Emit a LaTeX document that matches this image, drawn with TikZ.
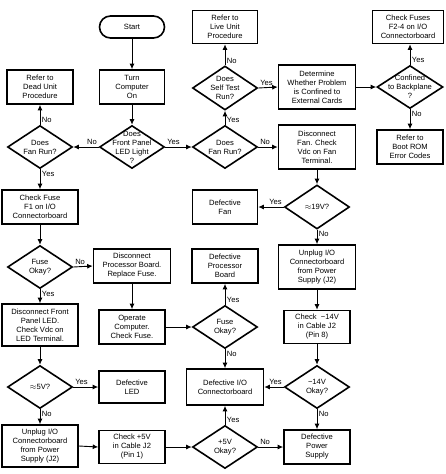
\documentclass[tikz,border=0pt]{standalone}
\usepackage{fontspec}
\setmainfont{Liberation Sans}
\usetikzlibrary{shapes.geometric,arrows.meta}
\begin{document}
\begin{tikzpicture}[x=1pt,y=-1pt,
  font=\fontsize{7.6}{9}\selectfont,
  proc/.style={draw, line width=1.6pt, align=center, inner sep=1pt,
    minimum width=66pt, minimum height=34pt},
  term/.style={proc, rounded corners=11pt, minimum width=65pt, minimum height=22pt},
  dec/.style={draw, diamond, line width=1.6pt, minimum width=65pt,
    minimum height=43pt, inner sep=0pt},
  dlab/.style={align=center, inner sep=0pt},
  conn/.style={line width=0.9pt, -{Latex[length=5.5pt,width=5pt]}},
  lab/.style={inner sep=1.5pt}
]
\useasboundingbox (0,0) rectangle (445,474);

% column 1 (x=40)
\node[proc, minimum width=66pt] (dead) at (40,87) {Refer to\\Dead Unit\\Procedure};
\node[dec, label={[dlab]center:Does\\Fan Run?}] (fanL) at (40,147) {};
\node[proc, minimum width=76pt] (chkF1) at (40,207) {Check Fuse\\F1 on I/O\\Connectorboard};
\node[dec, label={[dlab]center:Fuse\\Okay?}] (fuseL) at (40,267) {};
\node[proc, minimum width=76pt, minimum height=42pt] (discled) at (40,325) {Disconnect Front\\Panel LED.\\Check Vdc on\\LED Terminal.};
\node[dec, label={[dlab]center:$\approx$5V?}] (v5) at (40,387) {};
\node[proc, minimum width=76pt, minimum height=42pt] (unplugL) at (40,446) {Unplug I/O\\Connectorboard\\from Power\\Supply (J2)};

% column 2 (x=132)
\node[term] (start) at (132,27) {Start};
\node[proc, minimum width=65pt] (turn) at (132,87) {Turn\\Computer\\On};
\node[dec, label={[dlab]center:Does\\Front Panel\\LED Light\\?}] (led) at (132,147) {};
\node[proc, minimum width=77pt] (discproc) at (132,266) {Disconnect\\Processor Board.\\Replace Fuse.};
\node[proc] (operate) at (132,327) {Operate\\Computer.\\Check Fuse.};
\node[proc, minimum height=32pt] (defled) at (132,387) {Defective\\LED};
\node[proc, minimum height=33pt] (chk5) at (132,447) {Check +5V\\in Cable J2\\(Pin 1)};

% column 3 (x=225)
\node[proc, minimum width=65pt, minimum height=33pt] (live) at (225,27) {Refer to\\Live Unit\\Procedure};
\node[dec, minimum height=44pt, label={[dlab]center:Does\\Self Test\\Run?}] (self) at (225,88) {};
\node[dec, label={[dlab]center:Does\\Fan Run?}] (fanM) at (225,147) {};
\node[proc, minimum width=65pt] (deffan) at (225,207) {Defective\\Fan};
\node[proc] (defproc) at (225,266) {Defective\\Processor\\Board};
\node[dec, label={[dlab]center:Fuse\\Okay?}] (fuseM) at (225,327) {};
\node[proc, minimum width=77pt, minimum height=36pt] (defio) at (225,387) {Defective I/O\\Connectorboard};
\node[dec, label={[dlab]center:+5V\\Okay?}] (p5) at (225,447) {};

% column 4 (x=317)
\node[proc, minimum width=77pt, minimum height=44pt] (determ) at (317,87) {Determine\\Whether Problem\\is Confined to\\External Cards};
\node[proc, minimum width=77pt, minimum height=44pt] (discfan) at (317,147) {Disconnect\\Fan. Check\\Vdc on Fan\\Terminal.};
\node[dec, minimum height=44pt, label={[dlab]center:$\approx$19V?}] (v19) at (317,207) {};
\node[proc, minimum width=77pt, minimum height=44pt] (unplugR) at (317,267) {Unplug I/O\\Connectorboard\\from Power\\Supply (J2)};
\node[proc, minimum height=33pt] (chk14) at (317,327) {Check \ −14V\\in Cable J2\\(Pin 8)};
\node[dec, label={[dlab]center:−14V\\Okay?}] (v14) at (317,387) {};
\node[proc] (defps) at (317,447) {Defective\\Power\\Supply};

% column 5 (x=410)
\node[proc, minimum width=71pt, minimum height=33pt] (fuses24) at (408,27) {Check Fuses\\F2-4 on I/O\\Connectorboard};
\node[dec, minimum width=66pt, label={[dlab]center:Confined\\to Backplane\\?}] (conf) at (410,87) {};
\node[proc] (bootrom) at (410,147) {Refer to\\Boot ROM\\Error Codes};

% connectors
\draw[conn] (start) -- (turn);
\draw[conn] (turn) -- (led);
\draw[conn] (led.west) -- node[lab, pos=0, above left]{No} (fanL.east);
\draw[conn] (led.east) -- node[lab, pos=0, above right]{Yes} (fanM.west);
\draw[conn] (fanL.north) -- node[lab, pos=0, above right]{No} (dead.south);
\draw[conn] (fanL.south) -- node[lab, pos=0, below right]{Yes} (chkF1.north);
\draw[conn] (chkF1) -- (fuseL);
\draw[conn] (fuseL.east) -- node[lab, pos=0, above right]{No} (discproc.west);
\draw[conn] (fuseL.south) -- node[lab, pos=0, below right]{Yes} (discled.north);
\draw[conn] (discproc) -- (operate);
\draw[conn] (operate.east) -- (fuseM.west);
\draw[conn] (fuseM.north) -- node[lab, pos=0, above right]{Yes} (defproc.south);
\draw[conn] (fuseM.south) -- node[lab, pos=0, below right]{No} (defio.north);
\draw[conn] (discled) -- (v5);
\draw[conn] (v5.east) -- node[lab, pos=0, above right]{Yes} (defled.west);
\draw[conn] (v5.south) -- node[lab, pos=0, below right]{No} (unplugL.north);
\draw[conn] (unplugL.east) -- (chk5.west);
\draw[conn] (chk5.east) -- (p5.west);
\draw[conn] (p5.north) -- node[lab, pos=0, above right]{Yes} (defio.south);
\draw[conn] (p5.east) -- node[lab, pos=0, above right]{No} (defps.west);
\draw[conn] (fanM.north) -- node[lab, pos=0, above right]{Yes} (self.south);
\draw[conn] (fanM.east) -- node[lab, pos=0, above right]{No} (discfan.west);
\draw[conn] (self.north) -- node[lab, pos=0, above right]{No} (live.south);
\draw[conn] (self.east) -- node[lab, pos=0, above right]{Yes} (determ.west);
\draw[conn] (determ.east) -- (conf.west);
\draw[conn] (conf.north) -- node[lab, pos=0, above right]{Yes} (conf.north |- fuses24.south);
\draw[conn] (conf.south) -- node[lab, pos=0, below right]{No} (bootrom.north);
\draw[conn] (discfan) -- (v19);
\draw[conn] (v19.west) -- node[lab, pos=0, above left]{Yes} (deffan.east);
\draw[conn] (v19.south) -- node[lab, pos=0, below right]{No} (unplugR.north);
\draw[conn] (unplugR) -- (chk14);
\draw[conn] (chk14) -- (v14);
\draw[conn] (v14.west) -- node[lab, pos=0, above left]{Yes} (defio.east);
\draw[conn] (v14.south) -- node[lab, pos=0, below right]{No} (defps.north);
\end{tikzpicture}
\end{document}
